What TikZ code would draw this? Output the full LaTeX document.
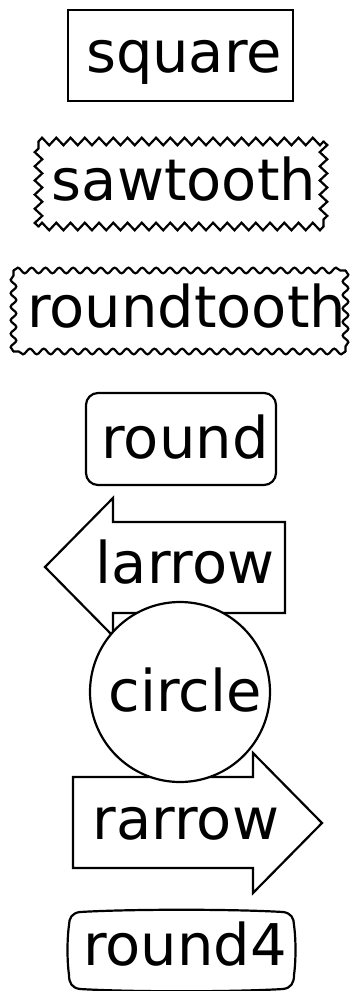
\documentclass[tikz,border=0pt]{standalone}
\usepackage{fontspec}
\setmainfont{DejaVu Sans}
\usetikzlibrary{decorations.pathmorphing}
\tikzset{
  shapeline/.style={draw=black, line width=2.2pt, fill=white, line join=miter},
  toothline/.style={draw=black, line width=2.2pt, line join=miter, line cap=round},
  lbl/.style={anchor=base, inner sep=0pt, font=\fontsize{57.5pt}{60pt}\selectfont}
}
\begin{document}
\begin{tikzpicture}[x=1pt,y=-1pt]
\useasboundingbox (0,0) rectangle (350,991);
% square
\draw[shapeline] (68,10) rectangle (293,101);
% sawtooth
\begin{scope}[toothline, decoration={zigzag, amplitude=3.8pt}]
\draw[decorate, decoration={segment length=14.25pt}] (38.5,141.5) -- (323.5,141.5);
\draw[decorate, decoration={segment length=14.25pt}] (323.5,226.5) -- (38.5,226.5);
\draw[decorate, decoration={segment length=14.1667pt}] (38.5,226.5) -- (38.5,141.5);
\draw[decorate, decoration={segment length=14.1667pt}] (323.5,141.5) -- (323.5,226.5);
\end{scope}
% roundtooth
\begin{scope}[toothline, decoration={snake, amplitude=2.8pt}]
\draw[decorate, decoration={segment length=13.8333pt}] (13.5,270.5) -- (345.5,270.5);
\draw[decorate, decoration={segment length=13.8333pt}] (345.5,351.5) -- (13.5,351.5);
\draw[decorate, decoration={segment length=13.5pt}] (13.5,351.5) -- (13.5,270.5);
\draw[decorate, decoration={segment length=13.5pt}] (345.5,270.5) -- (345.5,351.5);
\end{scope}
% round
\draw[shapeline, rounded corners=12pt] (86,393) rectangle (276,485);
% larrow
\draw[shapeline] (45,567) -- (113,498) -- (113,522) -- (285,522) -- (285,613) -- (113,613) -- (113,636) -- cycle;
% rarrow
\draw[shapeline] (73,777) -- (253,777) -- (253,753) -- (322,823) -- (253,893) -- (253,868) -- (73,868) -- cycle;
% circle
\draw[shapeline] (180,692) circle[radius=90];
% round4
\draw[shapeline] (80,912) .. controls (130,909) and (233,909) .. (283,912)
  .. controls (291,913) and (294,918) .. (294,925)
  .. controls (296,940) and (296,960) .. (294,975)
  .. controls (294,983) and (291,988) .. (283,989)
  .. controls (233,992) and (130,992) .. (80,989)
  .. controls (72,988) and (69,983) .. (69,975)
  .. controls (67,960) and (67,940) .. (69,925)
  .. controls (69,918) and (72,913) .. (80,912) -- cycle;
% labels
\node[lbl] (tsquare) at (184,72) {square};
\node[lbl] (tsaw) at (184,200) {sawtooth};
\node[lbl] (tround) at (186.5,327) {roundtooth};
\node[lbl] (tr) at (185,458) {round};
\node[lbl] (tl) at (185,583) {larrow};
\node[lbl] (tc) at (185,711) {circle};
\node[lbl] (trr) at (186,839) {rarrow};
\node[lbl] (tr4) at (185,965) {round4};
\end{tikzpicture}
\end{document}
